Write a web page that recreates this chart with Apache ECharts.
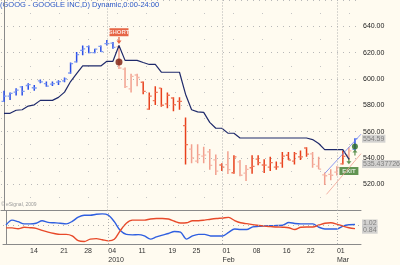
<!DOCTYPE html>
<html><head><meta charset="utf-8">
<script src="https://cdn.jsdelivr.net/npm/echarts@6/dist/echarts.min.js"></script>
<style>html,body{margin:0;padding:0;background:#fffbf0}#c{width:400px;height:265px}</style>
</head><body><div id="c"></div>
<script>
const dates = ['12-08','12-09','12-10','12-11','12-14','12-15','12-16','12-17','12-18','12-21','12-22','12-23','12-24','12-28','12-29','12-30','12-31','01-04','01-05','01-06','01-07','01-08','01-11','01-12','01-13','01-14','01-15','01-19','01-20','01-21','01-22','01-25','01-26','01-27','01-28','01-29','02-01','02-02','02-03','02-04','02-05','02-08','02-09','02-10','02-11','02-12','02-16','02-17','02-18','02-19','02-22','02-23','02-24','02-25','02-26','03-01','03-02','03-03','03-04'];
const tickDates = ['12-14','12-21','12-28','01-04','01-11','01-19','01-25','02-01','02-08','02-16','02-22','03-01'];
const tickLabels = ['14','21','28','04\n2010','11','19','25','01\nFeb','08','16','22','01\nMar'];
const open  = [583,587,590,594,595,593.3,598.6,596.4,596,597.6,598.6,604.5,612.9,621.7,624.5,620,624.8,626.9,627.2,624.5,607.5,592.5,603,597.5,577,583.5,593,581,585.5,583,564.5,546.6,537.5,541.3,544.5,538.5,534.6,534.9,528.7,537,528.4,532.5,539,534.6,532.9,532.9,536,542,537.5,540.8,547.5,543,533.8,527.1,527.4,529.2,535.5,542,546.5];
const high  = [591,589.6,593,594.6,596.8,595.4,599.6,598,598,599,601,612.5,620.4,625.4,625.4,623,625.4,629.6,628,625.4,608.7,604,604,598,589.6,594.4,593.2,589.6,586.1,586.1,570.6,550.4,550.4,548.5,546.8,542.5,536,545,542,538.4,534.5,542,542,539,540.9,537.3,544.4,544.4,544.4,545.6,548,544.4,540.9,528.9,531.3,533.7,545.6,548,555];
const low   = [582.5,584,587.5,587.5,591.8,591,596.8,594,594.6,595.4,597.5,604,612.5,618,619.6,619.6,620.4,625.4,623,607.5,593.2,589.6,594.4,588.4,576.6,580.1,578.9,577.7,575.4,576.6,534.9,536,536,536,531,527,530,527.7,528,526,522.5,528,534.3,528.5,530,531,532.5,538.4,535,538.4,540.9,532.5,531.3,519.4,523,526.6,534.9,538.4,545.6];
const close = [587,589,591.5,590.5,595.7,593.1,597.8,594.5,596.4,598,600,611.7,618.5,622.9,620,622.7,620.8,626.8,624,608.3,594.1,602,601.1,590.5,587,589.8,580,587.6,580.4,583,550,540,542.4,542.1,534.3,530,533,531.1,540.8,526.8,531.3,533.5,536.4,534.5,536.4,533.1,541.3,538.4,543.2,540.8,542.8,535.1,531.5,526.4,526.8,532.7,541.1,545.3,554.6];
const dynamicStop = [573.8,573.9,576.2,576.6,579.4,580.3,583.7,583.7,583.7,586,590,598,604,609.9,609.9,609.9,609.9,613.4,613.4,625.4,614.1,614.1,614.1,612.5,611,611,605.1,605.1,605.1,605.1,588.4,576.6,575,574.6,567,562.5,562.5,558.8,558.7,555.1,555.1,555.1,555.1,555.1,555.1,555.1,555.1,555.1,555.1,555.1,555.1,553.9,550.9,546.3,546.3,546.3,546.3,539];
const indBlue = [1.0,1.22,1.15,1.05,1.05,1.08,1.19,1.12,1.1,1.08,1.05,1.16,1.35,1.44,1.44,1.48,1.5,1.44,1.15,0.75,0.58,0.56,0.57,0.51,0.37,0.47,0.55,0.62,0.71,0.68,0.37,0.51,0.58,0.58,0.51,0.51,0.51,0.67,0.82,0.8,0.8,0.92,0.94,0.96,0.97,0.98,0.99,1.11,1.07,1.05,1.05,1.05,0.9,0.82,0.82,0.82,0.95,1.01,1.02];
const indRed  = [0.87,0.87,0.83,0.9,0.88,0.85,0.76,0.68,0.62,0.58,0.58,0.51,0.3,0.26,0.37,0.39,0.34,0.29,0.36,0.75,1.08,1.22,1.22,1.22,1.27,1.29,1.29,1.27,1.17,1.09,1.1,1.19,1.19,1.22,1.26,1.29,1.31,1.34,1.2,1.1,1.06,1.02,0.98,0.95,0.93,0.91,0.9,0.88,0.8,0.9,0.91,0.91,1.0,1.08,1.1,1.04,0.95,0.88,0.84];
const fadedBars = [19,20,21,22,31,32,33,34,35,37,39,40,51,52,53,54,55,57];
const channelUpper = [[53.06,528.4],[59,558]];
const channelLower = [[53.3,512.3],[59,543.2]];
const shortIndex = 19, exitIndex = 57;
const lastPrice = '554.59', stopLevel = '535.437726';
const indLast = ['1.02','0.84'];

const FONT = 'Liberation Sans';
const monthStarts = dates.map((d,i)=>i>0 && d.slice(0,2)!==dates[i-1].slice(0,2) ? i : -1).filter(i=>i>=0);
const vLines = monthStarts.map(i=>({xAxis:i}));
const arrowDown = 'path://M3,0 L5,0 L5,5 L8,5 L4,10 L0,5 L3,5 Z';
const arrowUp = 'path://M3,10 L5,10 L5,5 L8,5 L4,0 L0,5 L3,5 Z';

const chart = echarts.init(document.getElementById('c'), null, {renderer:'canvas'});
const option = {
  backgroundColor:'#fffbf0',
  animation:false,
  grid:[{left:1,right:39,top:-13.5,height:224},{left:1,right:39,top:210.5,height:35}],
  xAxis:[
    {type:'value',gridIndex:0,min:-0.5,max:59,interval:0.5,axisLine:{show:true,onZero:false,lineStyle:{color:'#8a8a8a',width:1}},axisTick:{show:false},axisLabel:{show:false},splitLine:{show:false}},
    {type:'value',gridIndex:1,min:-0.5,max:59,interval:0.5,axisLine:{show:true,onZero:false,lineStyle:{color:'#8a8a8a',width:1}},axisTick:{show:false},splitLine:{show:false},
     axisLabel:{show:true,margin:3,align:'left',fontFamily:FONT,fontSize:7,color:'#333',lineHeight:9,
       formatter:v=>{ if(!Number.isInteger(v)||v<0||v>=dates.length) return ''; const k=tickDates.indexOf(dates[v]); return k>=0?tickLabels[k]:''; }}}
  ],
  yAxis:[
    {type:'value',gridIndex:0,position:'right',min:500,max:660,interval:20,
     axisLine:{show:true,lineStyle:{color:'#8a8a8a'}},axisTick:{show:false},
     axisLabel:{margin:2,fontFamily:FONT,fontSize:7,color:'#222',formatter:v=>(v>=520&&v<=640)?v.toFixed(2):''},
     splitLine:{show:true,lineStyle:{color:'#b8b8b8',type:[1,5],width:1}},
     minorTick:{show:false,splitNumber:2},
     minorSplitLine:{show:true,lineStyle:{color:'#c4c4c4',type:[1,28],width:1}}},
    {type:'value',gridIndex:1,position:'right',min:0.15,max:1.65,
     axisLine:{show:true,lineStyle:{color:'#8a8a8a'}},axisTick:{show:false},axisLabel:{show:false},splitLine:{show:false}}
  ],
  series:[
    {type:'custom',xAxisIndex:0,yAxisIndex:0,clip:true,
     data:dates.map((d,i)=>[i,open[i],high[i],low[i],close[i]]),
     encode:{x:0,y:[1,2,3,4]},
     renderItem:(params,api)=>{
       const i=api.value(0),o=api.value(1),h=api.value(2),l=api.value(3),c=api.value(4);
       const pH=api.coord([i,h]),pL=api.coord([i,l]),pO=api.coord([i,o]),pC=api.coord([i,c]);
       const x=pH[0];
       const long = i<shortIndex || i>exitIndex;
       const faded = fadedBars.indexOf(i)>=0;
       const col = long ? '#2a4ee8' : (faded?'#f2a08e':'#e8401c');
       const tick = long ? '#7f9cf2' : (faded?'#f5b8a8':'#ef7a5c');
       return {type:'group',children:[
         {type:'line',shape:{x1:x,y1:pH[1],x2:x,y2:pL[1]},style:{stroke:col,lineWidth:1.5}},
         {type:'line',shape:{x1:x-2.5,y1:pO[1],x2:x,y2:pO[1]},style:{stroke:tick,lineWidth:1.3}},
         {type:'line',shape:{x1:x,y1:pC[1],x2:x+2.5,y2:pC[1]},style:{stroke:tick,lineWidth:1.3}}
       ]};
     },
     markLine:{silent:true,symbol:'none',label:{show:false},lineStyle:{color:'#b0b0b0',type:[1,2],width:1},data:vLines}
    },
    {type:'line',xAxisIndex:0,yAxisIndex:0,data:dynamicStop.map((v,i)=>[i,v]),symbol:'none',lineStyle:{color:'#1f2a6b',width:1.2}},
    {type:'line',xAxisIndex:0,yAxisIndex:0,data:channelUpper,symbol:'none',lineStyle:{color:'#7080f0',width:0.8}},
    {type:'line',xAxisIndex:0,yAxisIndex:0,data:channelLower,symbol:'none',lineStyle:{color:'#f0a090',width:0.8}},
    {type:'scatter',xAxisIndex:0,yAxisIndex:0,clip:false,symbol:'rect',symbolSize:[19,8],itemStyle:{color:'#e0401c'},
     data:[[shortIndex,635.5]],label:{show:true,position:'inside',formatter:'SHORT',color:'#fff',fontSize:6,fontWeight:'bold',fontFamily:FONT}},
    {type:'scatter',xAxisIndex:0,yAxisIndex:0,symbol:arrowDown,symbolSize:[5,7],itemStyle:{color:'#e0401c'},data:[[shortIndex,629.3]]},
    {type:'scatter',xAxisIndex:0,yAxisIndex:0,symbol:'circle',symbolSize:7,itemStyle:{color:'#7a1a0a'},data:[[shortIndex,612.9]]},
    {type:'scatter',xAxisIndex:0,yAxisIndex:0,clip:false,symbol:'rect',symbolSize:[19,8],itemStyle:{color:'#3a7a2a'},
     data:[[exitIndex,530]],label:{show:true,position:'inside',formatter:'EXIT',color:'#fff',fontSize:6,fontWeight:'bold',fontFamily:FONT}},
    {type:'scatter',xAxisIndex:0,yAxisIndex:0,symbol:arrowDown,symbolSize:[5,6],itemStyle:{color:'#3a7a2a'},data:[[exitIndex,537.5]]},
    {type:'scatter',xAxisIndex:0,yAxisIndex:0,symbol:arrowUp,symbolSize:[5,6],itemStyle:{color:'#3a7a2a'},data:[[exitIndex+1,544]]},
    {type:'scatter',xAxisIndex:0,yAxisIndex:0,symbol:'circle',symbolSize:6,itemStyle:{color:'#2a6a22'},data:[[exitIndex+1,548.7]]},
    {type:'scatter',xAxisIndex:0,yAxisIndex:0,clip:false,symbolSize:0,
     data:[[59,parseFloat(lastPrice),lastPrice],[59,parseFloat(stopLevel),stopLevel]],
     label:{show:true,position:'right',distance:1,formatter:p=>p.value[2],backgroundColor:'#c8c8c8',color:'#6a6a6a',fontSize:7,fontFamily:FONT,padding:[1,1,0,1]}},
    {type:'line',xAxisIndex:1,yAxisIndex:1,data:indBlue.map((v,i)=>[i,v]),symbol:'none',smooth:0.3,lineStyle:{color:'#2f5fe0',width:1.4},
     markLine:{silent:true,symbol:'none',label:{show:false},lineStyle:{color:'#b0b0b0',type:[1,2],width:1},data:vLines.concat([{yAxis:1.0,lineStyle:{type:[1,4]}}])}},
    {type:'line',xAxisIndex:1,yAxisIndex:1,data:indRed.map((v,i)=>[i,v]),symbol:'none',smooth:0.3,lineStyle:{color:'#e84a2a',width:1.4}},
    {type:'scatter',xAxisIndex:1,yAxisIndex:1,clip:false,symbolSize:0,
     data:[[59,1.07,indLast[0]],[59,0.79,indLast[1]]],
     label:{show:true,position:'right',distance:1,formatter:p=>p.value[2],backgroundColor:'#c8c8c8',color:'#6a6a6a',fontSize:7,fontFamily:FONT,padding:[1,1,0,1]}}
  ],
  graphic:[
    {type:'text',left:0,top:1,style:{text:'(GOOG - GOOGLE INC,D) Dynamic,0:00-24:00',fill:'#2a56c6',font:'7.5px "Liberation Sans"'}},
    {type:'text',left:1,top:202,style:{text:'© eSignal, 2009',fill:'#9a9a9a',font:'5px "Liberation Sans"'}}
  ]
};
chart.setOption(option);
</script></body></html>
